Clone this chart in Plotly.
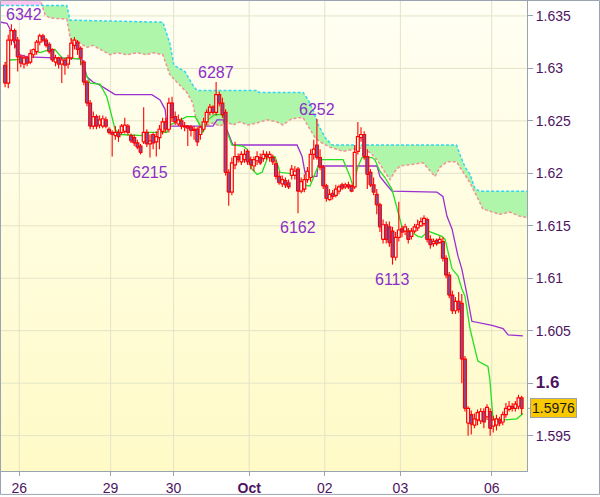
import plotly.graph_objects as go

# ---------------- data (hourly candles, index = candle number) ----------------
opens = [1.6303,1.6286,1.6327,1.6336,1.6327,1.6311,1.6304,1.6310,1.6306,1.6313,
         1.6316,1.6325,1.6331,1.6327,1.6323,1.6318,1.6306,1.6310,1.6304,1.6308,
         1.6304,1.6310,1.6322,1.6325,1.6319,1.6306,1.6287,1.6267,1.6245,1.6254,
         1.6246,1.6245,1.6251,1.6242,1.6239,1.6236,1.6239,1.6239,1.6240,1.6245,
         1.6236,1.6234,1.6229,1.6226,1.6230,1.6239,1.6228,1.6237,1.6230,1.6234,
         1.6240,1.6249,1.6242,1.6267,1.6254,1.6247,1.6250,1.6244,1.6245,1.6244,
         1.6242,1.6242,1.6237,1.6242,1.6249,1.6258,1.6263,1.6258,1.6275,1.6267,
         1.6258,1.6201,1.6182,1.6208,1.6216,1.6211,1.6213,1.6221,1.6213,1.6207,
         1.6212,1.6215,1.6214,1.6218,1.6215,1.6215,1.6209,1.6197,1.6190,1.6193,
         1.6191,1.6198,1.6198,1.6204,1.6183,1.6185,1.6194,1.6196,1.6218,1.6227,
         1.6215,1.6206,1.6188,1.6175,1.6181,1.6179,1.6183,1.6189,1.6187,1.6189,
         1.6188,1.6187,1.6221,1.6234,1.6237,1.6216,1.6201,1.6189,1.6180,1.6170,
         1.6137,1.6151,1.6149,1.6145,1.6120,1.6139,1.6147,1.6145,1.6145,1.6140,
         1.6145,1.6148,1.6150,1.6152,1.6156,1.6137,1.6133,1.6136,1.6134,1.6135,
         1.6119,1.6103,1.6084,1.6069,1.6078,1.6076,1.6023,1.5962,1.5970,1.5960,
         1.5965,1.5964,1.5973,1.5968,1.5973,1.5959,1.5960,1.5965,1.5963,1.5970,
         1.5975,1.5978,1.5976,1.5978,1.5986]
highs = [1.6306,1.6332,1.6342,1.6338,1.6330,1.6313,1.6313,1.6312,1.6318,1.6319,
         1.6327,1.6333,1.6333,1.6329,1.6325,1.6319,1.6313,1.6311,1.6311,1.6310,
         1.6313,1.6329,1.6330,1.6327,1.6321,1.6308,1.6289,1.6270,1.6259,1.6256,
         1.6255,1.6255,1.6254,1.6244,1.6241,1.6245,1.6242,1.6247,1.6253,1.6247,
         1.6238,1.6237,1.6232,1.6228,1.6263,1.6242,1.6237,1.6239,1.6240,1.6246,
         1.6253,1.6253,1.6272,1.6273,1.6259,1.6256,1.6253,1.6249,1.6246,1.6246,
         1.6245,1.6244,1.6245,1.6253,1.6261,1.6266,1.6265,1.6287,1.6278,1.6272,
         1.6261,1.6204,1.6215,1.6230,1.6219,1.6221,1.6223,1.6223,1.6216,1.6216,
         1.6221,1.6219,1.6222,1.6221,1.6221,1.6218,1.6213,1.6202,1.6198,1.6196,
         1.6194,1.6208,1.6207,1.6206,1.6196,1.6199,1.6206,1.6223,1.6232,1.6252,
         1.6223,1.6208,1.6190,1.6185,1.6184,1.6189,1.6189,1.6191,1.6191,1.6192,
         1.6189,1.6227,1.6249,1.6244,1.6240,1.6223,1.6204,1.6196,1.6185,1.6172,
         1.6156,1.6154,1.6154,1.6149,1.6144,1.6173,1.6150,1.6152,1.6148,1.6148,
         1.6152,1.6156,1.6158,1.6160,1.6158,1.6141,1.6138,1.6138,1.6140,1.6139,
         1.6122,1.6106,1.6088,1.6082,1.6087,1.6085,1.6026,1.5978,1.5974,1.5971,
         1.5975,1.5976,1.5976,1.5980,1.5976,1.5969,1.5970,1.5968,1.5973,1.5981,
         1.5983,1.5981,1.5983,1.5989,1.5988]
lows = [1.6282,1.6281,1.6322,1.6319,1.6297,1.6301,1.6300,1.6302,1.6304,1.6310,
        1.6313,1.6322,1.6325,1.6320,1.6314,1.6306,1.6302,1.6300,1.6286,1.6294,
        1.6300,1.6308,1.6318,1.6313,1.6303,1.6284,1.6264,1.6242,1.6242,1.6242,
        1.6243,1.6243,1.6243,1.6237,1.6216,1.6232,1.6230,1.6237,1.6238,1.6236,
        1.6229,1.6226,1.6223,1.6218,1.6228,1.6225,1.6215,1.6223,1.6216,1.6223,
        1.6237,1.6239,1.6239,1.6249,1.6246,1.6245,1.6242,1.6240,1.6226,1.6235,
        1.6232,1.6226,1.6232,1.6240,1.6246,1.6255,1.6256,1.6255,1.6264,1.6253,
        1.6198,1.6169,1.6179,1.6204,1.6210,1.6208,1.6210,1.6208,1.6204,1.6202,
        1.6208,1.6208,1.6211,1.6213,1.6211,1.6208,1.6194,1.6189,1.6187,1.6186,
        1.6185,1.6194,1.6194,1.6162,1.6181,1.6182,1.6191,1.6192,1.6213,1.6213,
        1.6203,1.6185,1.6173,1.6174,1.6175,1.6177,1.6180,1.6184,1.6185,1.6185,
        1.6182,1.6185,1.6218,1.6230,1.6213,1.6185,1.6187,1.6179,1.6161,1.6144,
        1.6133,1.6133,1.6130,1.6113,1.6117,1.6135,1.6139,1.6141,1.6133,1.6137,
        1.6143,1.6145,1.6149,1.6150,1.6134,1.6128,1.6130,1.6131,1.6133,1.6116,
        1.6100,1.6081,1.6066,1.6066,1.6067,1.6000,1.5973,1.5950,1.5951,1.5957,
        1.5960,1.5961,1.5957,1.5965,1.5950,1.5953,1.5955,1.5959,1.5960,1.5967,
        1.5973,1.5973,1.5973,1.5975,1.5970]
closes = [1.6286,1.6327,1.6336,1.6327,1.6311,1.6305,1.6310,1.6305,1.6314,1.6318,
          1.6325,1.6331,1.6327,1.6322,1.6316,1.6308,1.6310,1.6304,1.6308,1.6303,
          1.6310,1.6324,1.6327,1.6318,1.6310,1.6287,1.6267,1.6245,1.6254,1.6245,
          1.6251,1.6252,1.6245,1.6239,1.6237,1.6239,1.6235,1.6245,1.6246,1.6239,
          1.6231,1.6229,1.6225,1.6220,1.6239,1.6228,1.6231,1.6229,1.6235,1.6242,
          1.6249,1.6242,1.6267,1.6253,1.6249,1.6251,1.6245,1.6245,1.6243,1.6241,
          1.6241,1.6230,1.6244,1.6249,1.6258,1.6263,1.6258,1.6275,1.6267,1.6256,
          1.6201,1.6182,1.6210,1.6216,1.6213,1.6218,1.6218,1.6211,1.6208,1.6213,
          1.6216,1.6210,1.6218,1.6216,1.6218,1.6211,1.6197,1.6191,1.6194,1.6189,
          1.6187,1.6204,1.6202,1.6183,1.6192,1.6194,1.6202,1.6218,1.6223,1.6215,
          1.6206,1.6188,1.6176,1.6180,1.6178,1.6185,1.6187,1.6186,1.6189,1.6187,
          1.6183,1.6220,1.6235,1.6237,1.6216,1.6199,1.6189,1.6182,1.6170,1.6149,
          1.6151,1.6137,1.6134,1.6120,1.6139,1.6146,1.6144,1.6149,1.6137,1.6145,
          1.6149,1.6151,1.6154,1.6157,1.6137,1.6132,1.6135,1.6133,1.6137,1.6119,
          1.6103,1.6084,1.6069,1.6078,1.6070,1.6023,1.5976,1.5976,1.5961,1.5966,
          1.5972,1.5973,1.5963,1.5977,1.5957,1.5965,1.5966,1.5962,1.5970,1.5976,
          1.5978,1.5976,1.5980,1.5986,1.5976]

# Tenkan-sen (green) and Kijun-sen (purple): (candle position, price)
tenkan_x = [0,1.6,7.3,8.9,10.4,11.1,14.3,15.8,18.1,23.8,25.4,27.0,30.1,32.3,33.9,34.9,36.5,
            43.8,45.0,51.4,52.3,57.7,60.3,61.9,62.8,64.4,66.6,69.2,70.4,72.0,75.5,76.8,78.4,
            80.0,81.6,83.5,85.7,87.3,92.7,94.3,96.8,99.0,100.6,107.3,109.5,110.4,112.0,113.3,
            116.5,117.4,119.0,120.6,122.8,124.4,126.0,128.5,131.1,132.3,134.3,138.7,139.7,
            141.9,143.8,145.0,146.0,147.6,150.1,153.3,153.9,154.9,158.7,162.5,164.4]
tenkan_y = [1.6305,1.6308,1.6309,1.6316,1.6316,1.6315,1.6318,1.6318,1.6310,1.6309,1.6296,
            1.6286,1.6285,1.6273,1.6254,1.6242,1.6237,1.6236,1.6239,1.6239,1.6246,1.6254,
            1.6254,1.6246,1.6239,1.6251,1.6256,1.6256,1.6240,1.6227,1.6226,1.6223,1.6204,
            1.6199,1.6201,1.6216,1.6216,1.6201,1.6199,1.6189,1.6188,1.6204,1.6213,1.6213,
            1.6197,1.6188,1.6206,1.6215,1.6215,1.6213,1.6202,1.6196,1.6185,1.6166,1.6149,
            1.6145,1.6140,1.6139,1.6145,1.6140,1.6137,1.6109,1.6102,1.6090,1.6083,1.6052,
            1.6021,1.6016,1.6004,1.5966,1.5965,1.5966,1.5971]
kijun_x = [-1.3,0.6,1.6,2.5,3.8,4.7,7.0,24.4,26.0,27.9,30.1,33.3,34.9,46.6,49.2,50.8,51.4,
           66.0,67.3,69.2,70.4,71.4,72.3,92.7,94.3,95.2,95.8,99.0,99.3,118.1,119.0,120.6,
           122.8,137.1,139.0,140.3,141.9,143.8,145.0,146.6,148.2,154.6,158.1,159.7,164.4]
kijun_y = [1.6344,1.6343,1.6337,1.6327,1.6318,1.6313,1.6311,1.6309,1.6292,1.6287,1.6284,
           1.6278,1.6275,1.6275,1.6270,1.6261,1.6245,1.6245,1.6251,1.6251,1.6242,1.6234,
           1.6227,1.6227,1.6216,1.6201,1.6197,1.6197,1.6207,1.6207,1.6197,1.6191,1.6183,
           1.6182,1.6178,1.6159,1.6147,1.6121,1.6109,1.6085,1.6059,1.6055,1.6052,1.6046,
           1.6045]

# Ichimoku cloud: span B (cyan, dashed) and span A (pink, dashed)
spanb_x = [-1.3,11.7,19.6,20.6,50.1,52.3,53.6,57.1,59.6,60.9,80.0,80.6,94.6,96.2,97.7,99.3,
           101.6,103.8,143.3,144.4,146.0,147.6,149.2,150.8,165.7]
spanb_y = [1.6360,1.6360,1.6360,1.6346,1.6344,1.6324,1.6303,1.6297,1.6284,1.6279,1.6279,
           1.6277,1.6277,1.6270,1.6261,1.6247,1.6234,1.6227,1.6227,1.6218,1.6206,1.6199,
           1.6185,1.6183,1.6183]
spana_x = [-1.3,11.1,11.7,12.7,14.3,19.6,20.6,21.2,23.8,26.0,27.9,30.1,33.3,35.5,38.7,41.9,
           45.0,46.9,50.1,52.3,55.5,57.7,59.6,60.3,61.9,62.8,64.4,66.0,68.2,70.4,72.3,74.6,
           77.1,80.0,83.1,86.3,88.2,90.4,92.7,94.6,96.8,98.4,100.0,103.1,107.3,110.4,112.7,
           115.8,118.1,120.0,122.2,123.8,125.4,132.7,134.9,136.5,138.1,140.3,143.3,145.2,
           147.6,149.8,151.7,154.9,157.1,160.3,163.5,165.7]
spana_y = [1.6372,1.6368,1.6360,1.6351,1.6348,1.6347,1.6330,1.6325,1.6324,1.6320,1.6322,
           1.6318,1.6313,1.6315,1.6313,1.6315,1.6313,1.6315,1.6313,1.6294,1.6284,1.6277,
           1.6267,1.6256,1.6245,1.6244,1.6246,1.6248,1.6245,1.6249,1.6246,1.6249,1.6246,
           1.6248,1.6251,1.6249,1.6246,1.6251,1.6253,1.6253,1.6242,1.6234,1.6230,1.6225,
           1.6221,1.6223,1.6224,1.6220,1.6213,1.6204,1.6194,1.6202,1.6207,1.6210,1.6202,
           1.6197,1.6206,1.6211,1.6211,1.6202,1.6191,1.6178,1.6166,1.6163,1.6161,1.6163,
           1.6159,1.6158]
cloud_cross = 11.7  # where span A crosses span B

# swing labels: candle index and whether it marks a high or a low
swing_idx = [2, 67, 99, 46, 93, 123]
swing_kind = ["high", "high", "high", "low", "low", "low"]

day_ticks = [4.5, 33.5, 53.5, 77.5, 101.5, 125.5, 154.5]
day_labels = ["26", "29", "30", "<b>Oct</b>", "02", "03", "06"]
price_ticks = [1.595, 1.600, 1.605, 1.610, 1.615, 1.620, 1.625, 1.630, 1.635]
price_labels = ["1.595", "<b><span style='font-size:17px'>1.6</span></b>", "1.605", "1.61",
                "1.615", "1.62", "1.625", "1.63", "1.635"]

# ---------------- styling ----------------
X_RANGE = [-1.3, 165.7]
Y_RANGE = [1.591629, 1.636424]
W, H = 600, 497
ML, MR, MT, MB = 1, 73, 1, 24
FONT = "Arial, 'Liberation Sans', sans-serif"
TXT = "#4d145f"
AXIS = "#9aa4b0"
GRID = "#e3e3c9"
CANDLE_RED = "#ff0000"
BEAR_FILL = "#7456a8"
BULL_FILL = "#fffff2"
LABEL_PURPLE = "#8b2fc9"

fig = go.Figure()

# plot background gradient
fig.add_trace(go.Scatter(
    x=[X_RANGE[0], X_RANGE[1], X_RANGE[1], X_RANGE[0], X_RANGE[0]],
    y=[Y_RANGE[0], Y_RANGE[0], Y_RANGE[1], Y_RANGE[1], Y_RANGE[0]],
    mode="lines", line=dict(width=0), fill="toself",
    fillgradient=dict(type="vertical", start=Y_RANGE[0], stop=Y_RANGE[1],
                      colorscale=[[0, "#fffac6"], [1, "#fffff4"]]),
    hoverinfo="skip"))

# grid lines
gx, gy = [], []
for t in day_ticks:
    gx += [t, t, None]
    gy += [Y_RANGE[0], Y_RANGE[1], None]
for p in price_ticks:
    gx += [X_RANGE[0], X_RANGE[1], None]
    gy += [p, p, None]
fig.add_trace(go.Scatter(x=gx, y=gy, mode="lines", line=dict(color=GRID, width=1),
                         hoverinfo="skip"))

# cloud fills
def part(xs, ys, lo, hi):
    px, py = [], []
    for a, b in zip(xs, ys):
        if lo <= a <= hi:
            px.append(a)
            py.append(b)
    return px, py

bx1, by1 = part(spanb_x, spanb_y, -1e9, cloud_cross)
ax1, ay1 = part(spana_x, spana_y, -1e9, cloud_cross)
bx2, by2 = part(spanb_x, spanb_y, cloud_cross, 1e9)
ax2, ay2 = part(spana_x, spana_y, cloud_cross, 1e9)
fig.add_trace(go.Scatter(x=bx1, y=by1, mode="lines", line=dict(width=0), hoverinfo="skip"))
fig.add_trace(go.Scatter(x=ax1, y=ay1, mode="lines", line=dict(width=0), fill="tonexty",
                         fillcolor="#ffc6f0", hoverinfo="skip"))
fig.add_trace(go.Scatter(x=bx2, y=by2, mode="lines", line=dict(width=0), hoverinfo="skip"))
fig.add_trace(go.Scatter(x=ax2, y=ay2, mode="lines", line=dict(width=0), fill="tonexty",
                         fillcolor="#b0f6aa", hoverinfo="skip"))
# cloud edges
fig.add_trace(go.Scatter(x=spana_x, y=spana_y, mode="lines",
                         line=dict(color="#f29292", width=1.5, dash="3px,2px")))
fig.add_trace(go.Scatter(x=spanb_x, y=spanb_y, mode="lines",
                         line=dict(color="#33d6f0", width=1.5, dash="3px,2px")))

# kijun & tenkan
fig.add_trace(go.Scatter(x=kijun_x, y=kijun_y, mode="lines",
                         line=dict(color="#9b30d0", width=1.3)))
fig.add_trace(go.Scatter(x=tenkan_x, y=tenkan_y, mode="lines",
                         line=dict(color="#22e022", width=1.3)))

# candles: wicks then bodies
half = 0.45
wx, wy = [], []
bull_x, bull_y, bear_x, bear_y = [], [], [], []
for i, (o, h, l, c) in enumerate(zip(opens, highs, lows, closes)):
    top, bot = max(o, c), min(o, c)
    wx += [i, i, None, i, i, None]
    wy += [h, top, None, bot, l, None]
    rx = [i - half, i + half, i + half, i - half, i - half, None]
    ry = [bot, bot, top, top, bot, None]
    if c >= o:
        bull_x += rx
        bull_y += ry
    else:
        bear_x += rx
        bear_y += ry
fig.add_trace(go.Scatter(x=wx, y=wy, mode="lines", line=dict(color=CANDLE_RED, width=1.1),
                         hoverinfo="skip"))
fig.add_trace(go.Scatter(x=bull_x, y=bull_y, mode="lines", fill="toself", fillcolor=BULL_FILL,
                         line=dict(color=CANDLE_RED, width=1.2), hoverinfo="skip"))
fig.add_trace(go.Scatter(x=bear_x, y=bear_y, mode="lines", fill="toself", fillcolor=BEAR_FILL,
                         line=dict(color=CANDLE_RED, width=1.2), hoverinfo="skip"))

# swing labels
px_per_unit = (W - ML - MR) / (X_RANGE[1] - X_RANGE[0])
for idx, kind in zip(swing_idx, swing_kind):
    val = highs[idx] if kind == "high" else lows[idx]
    txt = f"{val:.4f}"[-4:]
    ann = dict(x=idx, y=val, text=txt, showarrow=False,
               font=dict(family=FONT, size=16, color=LABEL_PURPLE),
               yanchor="bottom" if kind == "high" else "top",
               yshift=-1 if kind == "high" else -4)
    if (idx - X_RANGE[0]) * px_per_unit < 20:
        ann.update(x=X_RANGE[0], xanchor="left", xshift=3)
    fig.add_annotation(**ann)

# last price box
last = closes[-1]
fig.add_annotation(x=1, xref="paper", y=last, yref="y", text=f"{last:.4f}",
                   showarrow=False, xanchor="left", xshift=3, yshift=0,
                   font=dict(family=FONT, size=14, color="#1a1a1a"),
                   bgcolor="#f9c800", bordercolor="#a0a0a0", borderwidth=1, borderpad=1)
fig.add_shape(type="line", xref="paper", yref="y", x0=1, x1=1 + 4 / (W - ML - MR),
              y0=last, y1=last, line=dict(color=AXIS, width=1))

# figure border
pw, ph = W - ML - MR, H - MT - MB
fig.add_shape(type="rect", xref="paper", yref="paper",
              x0=(0.5 - ML) / pw, x1=(W - 0.5 - ML) / pw,
              y0=-(MB - 0.5) / ph, y1=1 + (MT - 0.5) / ph,
              line=dict(color=AXIS, width=1), fillcolor="rgba(0,0,0,0)", layer="above")

fig.update_layout(
    width=W, height=H, margin=dict(l=ML, r=MR, t=MT, b=MB),
    paper_bgcolor="white", plot_bgcolor="#fffde6", showlegend=False,
    hovermode=False,
    xaxis=dict(range=X_RANGE, tickvals=day_ticks, ticktext=day_labels, showgrid=False,
               zeroline=False, showline=True, linecolor=AXIS, linewidth=1,
               ticks="outside", ticklen=4, tickcolor=AXIS,
               tickfont=dict(family=FONT, size=14, color=TXT)),
    yaxis=dict(range=Y_RANGE, side="right", tickvals=price_ticks, ticktext=price_labels,
               showgrid=False, zeroline=False, showline=True, linecolor=AXIS, linewidth=1,
               ticks="outside", ticklen=5, tickcolor=AXIS,
               tickfont=dict(family=FONT, size=14, color=TXT)),
)

fig.write_html("out.html", config={"displayModeBar": False},
               post_script="document.body.style.margin='0';document.body.style.overflow='hidden';")
